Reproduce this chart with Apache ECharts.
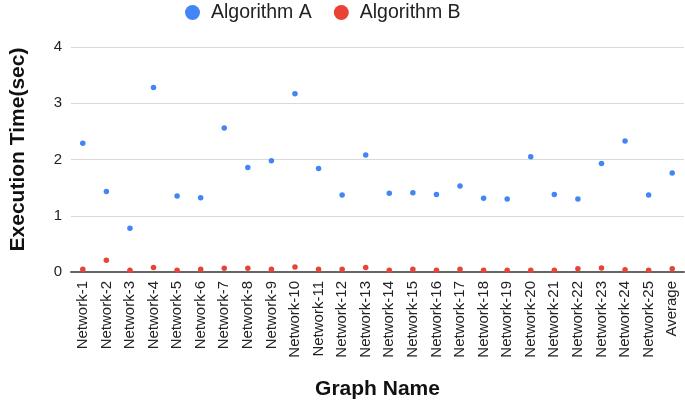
<!DOCTYPE html>
<html>
<head>
<meta charset="utf-8">
<script src="https://cdn.jsdelivr.net/npm/echarts@6/dist/echarts.min.js"></script>
<style>html,body{margin:0;padding:0;background:#fff}#c{width:685px;height:405px}</style>
</head>
<body>
<div id="c"></div>
<script>
var categories = ["Network-1","Network-2","Network-3","Network-4","Network-5","Network-6","Network-7","Network-8","Network-9","Network-10","Network-11","Network-12","Network-13","Network-14","Network-15","Network-16","Network-17","Network-18","Network-19","Network-20","Network-21","Network-22","Network-23","Network-24","Network-25","Average"];
var algorithmA = [2.29,1.43,0.78,3.28,1.35,1.32,2.56,1.86,1.98,3.17,1.84,1.37,2.08,1.40,1.41,1.38,1.53,1.31,1.30,2.05,1.38,1.30,1.93,2.33,1.37,1.76];
var algorithmB = [0.05,0.21,0.03,0.08,0.03,0.05,0.065,0.065,0.05,0.09,0.05,0.05,0.08,0.03,0.05,0.03,0.05,0.03,0.03,0.03,0.03,0.06,0.07,0.04,0.03,0.06];
var yTicks = [0,1,2,3,4];

var FONT = "'Liberation Sans', Arial, sans-serif";
var chart = echarts.init(document.getElementById('c'));
chart.setOption({
  animation: false,
  textStyle: {fontFamily: FONT},
  legend: {
    top: 2.5, left: 185, padding: 0,
    icon: 'circle', itemWidth: 15, itemHeight: 15, itemGap: 22,
    textStyle: {fontFamily: FONT, fontSize: 19.5, color: '#222', padding: [0,0,0,6]},
    data: ['Algorithm A', 'Algorithm B']
  },
  grid: {left: 65, right: 1, top: 47, bottom: 131.5, containLabel: false},
  xAxis: {
    type: 'category', data: categories, boundaryGap: true,
    name: 'Graph Name', nameLocation: 'middle', nameGap: 107,
    nameTextStyle: {fontFamily: FONT, fontSize: 21, fontWeight: 'bold', color: '#111'},
    axisLine: {show: true, lineStyle: {color: '#666', width: 2}},
    axisTick: {show: false},
    axisLabel: {rotate: 90, interval: 0, margin: 9, fontSize: 15, color: '#222', fontFamily: FONT}
  },
  yAxis: {
    type: 'value', min: yTicks[0], max: yTicks[yTicks.length-1], interval: 1,
    name: 'Execution Time(sec)', nameLocation: 'middle', nameGap: 42,
    nameTextStyle: {fontFamily: FONT, fontSize: 21, fontWeight: 'bold', color: '#111', padding: [0,0,0,20]},
    axisLine: {show: false}, axisTick: {show: false},
    axisLabel: {margin: 9, fontSize: 15, color: '#222', fontFamily: FONT},
    splitLine: {lineStyle: {color: '#d9d9d9', width: 1}}
  },
  series: [
    {name: 'Algorithm A', type: 'scatter', data: algorithmA, symbolSize: 5.5, itemStyle: {color: '#4285F4', opacity: 1}},
    {name: 'Algorithm B', type: 'scatter', data: algorithmB, symbolSize: 5.5, itemStyle: {color: '#EA4335', opacity: 1}}
  ]
});
</script>
</body>
</html>
